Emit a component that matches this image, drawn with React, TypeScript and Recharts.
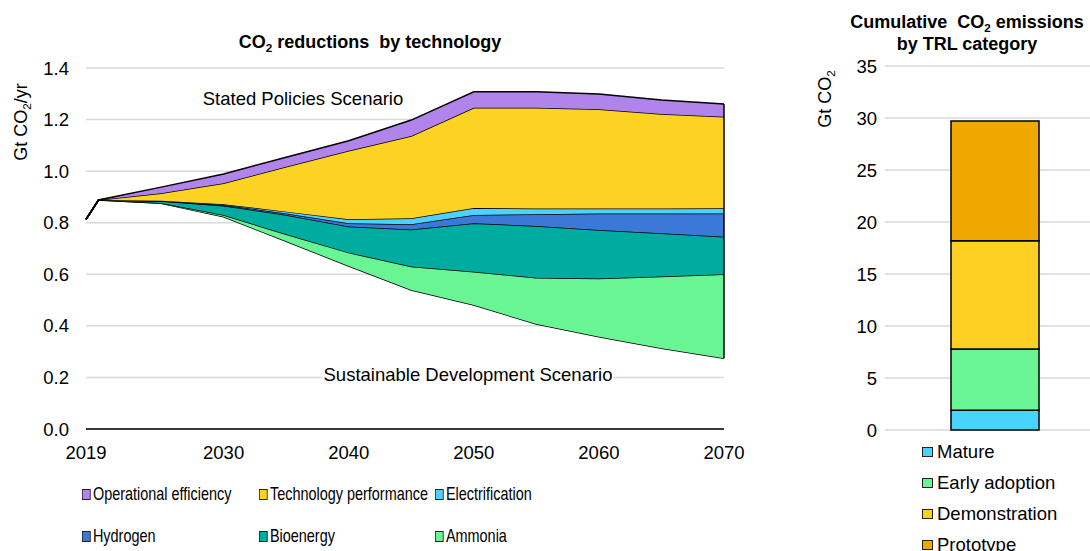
import React from "react";
import {
  AreaChart,
  Area,
  BarChart,
  Bar,
  XAxis,
  YAxis,
  CartesianGrid,
  ReferenceLine,
} from "recharts";

// left panel: CO2 reductions by technology (Gt CO2/yr)
const years = [2019, 2020, 2025, 2030, 2035, 2040, 2045, 2050, 2055, 2060, 2065, 2070];
const sdsEmissions = [0.813, 0.888, 0.875, 0.823, 0.728, 0.632, 0.539, 0.481, 0.407, 0.358, 0.313, 0.274];
const ammonia = [0, 0, 0.001, 0.007, 0.027, 0.052, 0.091, 0.129, 0.18, 0.226, 0.278, 0.326];
const bioenergy = [0, 0, 0.008, 0.036, 0.075, 0.101, 0.144, 0.188, 0.2, 0.188, 0.168, 0.146];
const hydrogen = [0, 0, 0, 0.003, 0.006, 0.013, 0.02, 0.032, 0.046, 0.064, 0.077, 0.09];
const electrification = [0, 0, 0.001, 0.003, 0.007, 0.015, 0.023, 0.027, 0.022, 0.019, 0.019, 0.02];
const techPerformance = [0, 0, 0.029, 0.081, 0.174, 0.266, 0.319, 0.389, 0.391, 0.385, 0.367, 0.355];
const operationalEfficiency = [0, 0, 0.024, 0.036, 0.037, 0.039, 0.062, 0.062, 0.062, 0.059, 0.054, 0.049];

const yearTicks = [2019, 2030, 2040, 2050, 2060, 2070];
const reductionTicks = [0, 0.2, 0.4, 0.6, 0.8, 1.0, 1.2, 1.4];

// right panel: cumulative CO2 by TRL category (Gt CO2)
const trlCategories = ["Mature", "Early adoption", "Demonstration", "Prototype"];
const trlValues = [1.9, 5.9, 10.4, 11.5];
const cumulativeTicks = [0, 5, 10, 15, 20, 25, 30, 35];

const techSeries = [
  { key: "ammonia", name: "Ammonia", color: "#69F594", values: ammonia },
  { key: "bioenergy", name: "Bioenergy", color: "#00AB9F", values: bioenergy },
  { key: "hydrogen", name: "Hydrogen", color: "#3C78D8", values: hydrogen },
  { key: "electrification", name: "Electrification", color: "#4BD2FF", values: electrification },
  { key: "techPerformance", name: "Technology performance", color: "#FDD323", values: techPerformance },
  { key: "operationalEfficiency", name: "Operational efficiency", color: "#B184EC", values: operationalEfficiency },
];

const trlColors = ["#49D3FF", "#69F594", "#FDD023", "#F0A800"];

const areaRows = years.map((year, i) => {
  const row: Record<string, number> = { year, sds: sdsEmissions[i] };
  techSeries.forEach((s) => (row[s.key] = s.values[i]));
  return row;
});

const last = years.length - 1;
const topAtEnd = techSeries.reduce((sum, s) => sum + s.values[last], sdsEmissions[last]);

const barRow: Record<string, number | string> = { name: "" };
trlCategories.forEach((c, i) => (barRow[c] = trlValues[i]));

const FONT = "'Liberation Sans', Arial, sans-serif";
const tickStyle = { fill: "#000", fontSize: 18.5, fontFamily: FONT };

const Sub = ({ children }: { children: React.ReactNode }) => (
  <span style={{ fontSize: "0.65em", position: "relative", top: "0.35em" }}>{children}</span>
);

const abs = (left: number, top: number, extra: React.CSSProperties = {}): React.CSSProperties => ({
  position: "absolute",
  left,
  top,
  transform: "translate(-50%, -50%)",
  whiteSpace: "nowrap",
  ...extra,
});

// legend order as in the reference
const leftLegend = [
  { name: "Operational efficiency", x: 82, y: 494 },
  { name: "Technology performance", x: 259, y: 494 },
  { name: "Electrification", x: 435, y: 494 },
  { name: "Hydrogen", x: 82, y: 536 },
  { name: "Bioenergy", x: 259, y: 536 },
  { name: "Ammonia", x: 435, y: 536 },
];

export default function App() {
  return (
    <div
      style={{
        position: "absolute",
        left: 0,
        top: 0,
        width: 1090,
        height: 551,
        overflow: "hidden",
        background: "#fff",
        fontFamily: FONT,
        color: "#000",
      }}
    >
      {/* Left chart */}
      <div style={{ position: "absolute", left: 0, top: 0 }}>
        <AreaChart width={760} height={470} data={areaRows} margin={{ top: 68, right: 36, bottom: 0, left: 0 }}>
          <CartesianGrid vertical={false} stroke="#d9d9d9" strokeWidth={1.5} />
          <XAxis
            dataKey="year"
            type="number"
            domain={[2019, 2070]}
            ticks={yearTicks}
            interval={0}
            height={41}
            tick={tickStyle}
            tickLine={false}
            tickSize={0}
            tickMargin={17}
            axisLine={{ stroke: "#000", strokeWidth: 1.5 }}
          />
          <YAxis
            type="number"
            domain={[0, 1.4]}
            ticks={reductionTicks}
            interval={0}
            width={86}
            tick={tickStyle}
            tickLine={false}
            tickSize={0}
            tickMargin={17}
            axisLine={false}
            tickFormatter={(v: number) => v.toFixed(1)}
          />
          <Area
            type="linear"
            dataKey="sds"
            stackId="1"
            fill="none"
            fillOpacity={0}
            stroke="#000"
            strokeWidth={1.5}
            isAnimationActive={false}
          />
          {techSeries.map((s) => (
            <Area
              key={s.key}
              type="linear"
              dataKey={s.key}
              name={s.name}
              stackId="1"
              fill={s.color}
              fillOpacity={1}
              stroke="#000"
              strokeWidth={1.5}
              isAnimationActive={false}
            />
          ))}
          <ReferenceLine
            segment={[
              { x: years[last], y: sdsEmissions[last] },
              { x: years[last], y: topAtEnd },
            ]}
            stroke="#000"
            strokeWidth={1.5}
          />
        </AreaChart>
      </div>

      <div style={abs(370, 42, { fontWeight: 700, fontSize: 18 })}>
        CO<Sub>2</Sub> reductions&nbsp; by technology
      </div>
      <div style={abs(21, 122, { fontSize: 18, transform: "translate(-50%, -50%) rotate(-90deg)" })}>
        Gt CO<Sub>2</Sub>/yr
      </div>
      <div style={abs(303, 99, { fontSize: 18.5 })}>Stated Policies Scenario</div>
      <div style={abs(468, 375, { fontSize: 18.5, background: "#fff", padding: "0 1px" })}>
        Sustainable Development Scenario
      </div>

      {leftLegend.map((item) => {
        const s = techSeries.find((t) => t.name === item.name)!;
        return (
          <div
            key={item.name}
            style={{
              position: "absolute",
              left: item.x,
              top: item.y,
              transform: "translateY(-50%) scaleX(0.78)",
              transformOrigin: "left center",
              display: "flex",
              alignItems: "center",
              whiteSpace: "nowrap",
              fontSize: 18.5,
            }}
          >
            <span
              style={{
                width: 9,
                height: 9,
                background: s.color,
                border: "1.5px solid #222",
                marginRight: 3,
                display: "inline-block",
              }}
            />
            {item.name}
          </div>
        );
      })}

      {/* Right chart */}
      <div style={{ position: "absolute", left: 780, top: 0 }}>
        <BarChart width={330} height={450} data={[barRow]} margin={{ top: 66, right: 6, bottom: 20, left: 0 }}>
          <CartesianGrid vertical={false} stroke="#d9d9d9" strokeWidth={1.5} />
          <XAxis dataKey="name" hide />
          <YAxis
            type="number"
            domain={[0, 35]}
            ticks={cumulativeTicks}
            interval={0}
            width={105}
            tick={tickStyle}
            tickLine={false}
            tickSize={0}
            tickMargin={8}
            axisLine={false}
          />
          {trlCategories.map((c, i) => (
            <Bar
              key={c}
              dataKey={c}
              stackId="trl"
              fill={trlColors[i]}
              stroke="#000"
              strokeWidth={1.5}
              barSize={88}
              isAnimationActive={false}
            />
          ))}
        </BarChart>
      </div>

      <div style={abs(967, 22, { fontWeight: 700, fontSize: 18 })}>
        Cumulative&nbsp; CO<Sub>2</Sub> emissions
      </div>
      <div style={abs(967, 44, { fontWeight: 700, fontSize: 18 })}>by TRL category</div>
      <div style={abs(825, 99, { fontSize: 18, transform: "translate(-50%, -50%) rotate(-90deg)" })}>
        Gt CO<Sub>2</Sub>
      </div>

      {trlCategories.map((c, i) => (
        <div
          key={c}
          style={{
            position: "absolute",
            left: 922,
            top: 452 + i * 31,
            transform: "translateY(-50%)",
            display: "flex",
            alignItems: "center",
            whiteSpace: "nowrap",
            fontSize: 18.5,
          }}
        >
          <span
            style={{
              width: 9,
              height: 8,
              background: trlColors[i],
              border: "1.5px solid #222",
              marginRight: 4,
              display: "inline-block",
            }}
          />
          {c}
        </div>
      ))}
    </div>
  );
}
